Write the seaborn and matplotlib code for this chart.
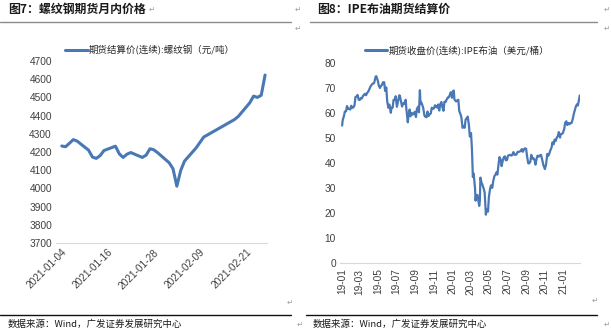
import matplotlib
matplotlib.use("Agg")
import matplotlib.pyplot as plt
import matplotlib.dates as mdates
from matplotlib.lines import Line2D
import seaborn as sns
import pandas as pd

# ---------------- data ----------------
rebar_dates = ["2021-01-04", "2021-01-05", "2021-01-06", "2021-01-07", "2021-01-08",
               "2021-01-11", "2021-01-12", "2021-01-13", "2021-01-14", "2021-01-15",
               "2021-01-18", "2021-01-19", "2021-01-20", "2021-01-21", "2021-01-22",
               "2021-01-25", "2021-01-26", "2021-01-27", "2021-01-28", "2021-01-29",
               "2021-02-01", "2021-02-02", "2021-02-03", "2021-02-04", "2021-02-05",
               "2021-02-08", "2021-02-09", "2021-02-10", "2021-02-18", "2021-02-19",
               "2021-02-22", "2021-02-23", "2021-02-24", "2021-02-25", "2021-02-26"]
rebar_values = [4233, 4229, 4248, 4268, 4260,
                4210, 4172, 4165, 4180, 4208,
                4232, 4190, 4170, 4188, 4197,
                4170, 4183, 4218, 4212, 4196,
                4141, 4108, 4012, 4098, 4150,
                4222, 4252, 4282, 4378, 4395,
                4470, 4507, 4500, 4512, 4623]

brent_dates = [
    "2019-01-02", "2019-01-04", "2019-01-08", "2019-01-11", "2019-01-15", "2019-01-18",
    "2019-01-22", "2019-01-25", "2019-01-29", "2019-02-01", "2019-02-05", "2019-02-08",
    "2019-02-12", "2019-02-15", "2019-02-19", "2019-02-22", "2019-02-26", "2019-03-01",
    "2019-03-05", "2019-03-08", "2019-03-12", "2019-03-15", "2019-03-19", "2019-03-22",
    "2019-03-26", "2019-03-29", "2019-04-02", "2019-04-05", "2019-04-09", "2019-04-12",
    "2019-04-16", "2019-04-18", "2019-04-23", "2019-04-25", "2019-04-30", "2019-05-03",
    "2019-05-07", "2019-05-10", "2019-05-14", "2019-05-17", "2019-05-21", "2019-05-24",
    "2019-05-28", "2019-05-31", "2019-06-04", "2019-06-07", "2019-06-12", "2019-06-14",
    "2019-06-18", "2019-06-21", "2019-06-25", "2019-06-28", "2019-07-02", "2019-07-05",
    "2019-07-10", "2019-07-12", "2019-07-16", "2019-07-19", "2019-07-23", "2019-07-26",
    "2019-07-31", "2019-08-02", "2019-08-07", "2019-08-09", "2019-08-13", "2019-08-16",
    "2019-08-20", "2019-08-23", "2019-08-27", "2019-08-30", "2019-09-03", "2019-09-06",
    "2019-09-10", "2019-09-13", "2019-09-16", "2019-09-18", "2019-09-20", "2019-09-24",
    "2019-09-27", "2019-10-01", "2019-10-04", "2019-10-08", "2019-10-11", "2019-10-15",
    "2019-10-18", "2019-10-22", "2019-10-25", "2019-10-29", "2019-11-01", "2019-11-05",
    "2019-11-08", "2019-11-12", "2019-11-15", "2019-11-19", "2019-11-22", "2019-11-26",
    "2019-11-29", "2019-12-03", "2019-12-06", "2019-12-10", "2019-12-13", "2019-12-17",
    "2019-12-20", "2019-12-24", "2019-12-27", "2019-12-31", "2020-01-03", "2020-01-06",
    "2020-01-08", "2020-01-10", "2020-01-14", "2020-01-17", "2020-01-21", "2020-01-24",
    "2020-01-28", "2020-01-31", "2020-02-04", "2020-02-07", "2020-02-11", "2020-02-14",
    "2020-02-18", "2020-02-21", "2020-02-25", "2020-02-28", "2020-03-03", "2020-03-06",
    "2020-03-09", "2020-03-11", "2020-03-13", "2020-03-16", "2020-03-18", "2020-03-20",
    "2020-03-24", "2020-03-27", "2020-03-30", "2020-04-01", "2020-04-03", "2020-04-07",
    "2020-04-09", "2020-04-14", "2020-04-17", "2020-04-21", "2020-04-23", "2020-04-28",
    "2020-05-01", "2020-05-05", "2020-05-08", "2020-05-12", "2020-05-15", "2020-05-19",
    "2020-05-22", "2020-05-26", "2020-05-29", "2020-06-02", "2020-06-05", "2020-06-09",
    "2020-06-12", "2020-06-16", "2020-06-19", "2020-06-23", "2020-06-26", "2020-06-30",
    "2020-07-03", "2020-07-07", "2020-07-10", "2020-07-14", "2020-07-17", "2020-07-21",
    "2020-07-24", "2020-07-28", "2020-07-31", "2020-08-04", "2020-08-07", "2020-08-11",
    "2020-08-14", "2020-08-18", "2020-08-21", "2020-08-26", "2020-08-28", "2020-09-01",
    "2020-09-04", "2020-09-08", "2020-09-11", "2020-09-15", "2020-09-18", "2020-09-22",
    "2020-09-25", "2020-09-29", "2020-10-02", "2020-10-06", "2020-10-09", "2020-10-13",
    "2020-10-16", "2020-10-20", "2020-10-23", "2020-10-28", "2020-11-02", "2020-11-06",
    "2020-11-10", "2020-11-13", "2020-11-17", "2020-11-20", "2020-11-24", "2020-11-27",
    "2020-12-01", "2020-12-04", "2020-12-08", "2020-12-11", "2020-12-15", "2020-12-18",
    "2020-12-22", "2020-12-24", "2020-12-31", "2021-01-05", "2021-01-08", "2021-01-12",
    "2021-01-15", "2021-01-19", "2021-01-22", "2021-01-26", "2021-01-29", "2021-02-02",
    "2021-02-05", "2021-02-09", "2021-02-12", "2021-02-16", "2021-02-19", "2021-02-23",
    "2021-02-25"]
brent_values = [
    54.9, 57.1, 58.7, 60.5, 60.6, 62.7,
    61.5, 61.6, 61.3, 62.8, 62.0, 62.1,
    63.0, 66.3, 66.5, 67.1, 65.2, 65.1,
    65.9, 65.7, 66.7, 67.2, 67.6, 67.0,
    68.0, 68.4, 69.4, 70.3, 71.0, 71.6,
    71.7, 72.0, 74.5, 74.6, 72.8, 70.9,
    69.9, 70.6, 71.2, 72.2, 72.2, 68.7,
    70.1, 64.5, 62.0, 63.3, 60.0, 62.0,
    62.1, 65.2, 65.1, 66.6, 62.4, 64.2,
    67.0, 66.7, 64.4, 62.5, 63.8, 63.5,
    65.2, 61.9, 56.2, 58.5, 61.3, 58.6,
    60.0, 59.3, 59.5, 60.4, 58.3, 61.5,
    62.4, 60.2, 69.0, 63.6, 64.3, 63.1,
    61.9, 58.9, 58.4, 58.2, 60.5, 58.7,
    59.4, 59.7, 62.0, 61.6, 61.7, 63.0,
    62.5, 62.1, 63.3, 60.9, 63.4, 64.3,
    62.4, 60.8, 64.4, 64.3, 65.2, 66.1,
    66.1, 67.2, 68.2, 66.0, 68.6, 68.9,
    65.4, 65.0, 64.5, 64.9, 65.2, 60.7,
    59.5, 58.2, 54.0, 54.5, 54.0, 57.3,
    57.8, 58.5, 55.0, 50.5, 51.9, 45.3,
    34.4, 35.8, 33.9, 30.1, 24.9, 27.0,
    27.2, 24.9, 22.8, 24.7, 34.1, 31.9,
    31.5, 29.6, 28.1, 19.3, 21.3, 20.5,
    26.4, 29.7, 31.0, 30.0, 32.5, 34.7,
    35.1, 36.2, 35.3, 39.6, 42.3, 41.2,
    38.7, 41.0, 42.2, 42.6, 41.0, 41.2,
    42.8, 43.1, 43.2, 42.9, 43.1, 44.3,
    43.3, 43.2, 43.3, 44.4, 44.4, 44.5,
    44.8, 45.5, 44.4, 45.6, 45.8, 45.6,
    42.7, 39.8, 39.8, 40.5, 43.2, 41.7,
    41.9, 41.0, 39.3, 41.9, 42.9, 42.5,
    42.9, 43.2, 41.8, 39.1, 37.5, 39.5,
    43.6, 42.8, 43.8, 45.0, 46.1, 48.2,
    47.4, 49.3, 48.8, 50.0, 50.8, 52.3,
    50.1, 51.3, 51.8, 53.6, 56.0, 56.6,
    55.1, 55.9, 55.4, 55.9, 55.9, 57.5,
    59.3, 61.1, 62.4, 63.4, 62.9, 65.4,
    66.9]

rebar_ticks = ["2021-01-04", "2021-01-16", "2021-01-28", "2021-02-09", "2021-02-21"]
brent_ticks = ["2019-01-01", "2019-03-01", "2019-05-01", "2019-07-01", "2019-09-01",
               "2019-11-01", "2020-01-01", "2020-03-01", "2020-05-01", "2020-07-01",
               "2020-09-01", "2020-11-01", "2021-01-01"]

title_left = "图7：螺纹钢期货月内价格"
title_right = "图8：IPE布油期货结算价"
legend_left = "期货结算价(连续):螺纹钢（元/吨）"
legend_right = "期货收盘价(连续):IPE布油（美元/桶）"
source_text = "数据来源：Wind，广发证券发展研究中心"

# ---------------- style ----------------
sns.set_theme(style="white")
plt.rcParams['font.family'] = ['Liberation Sans', 'Noto Sans CJK SC', 'DejaVu Sans']
LINE_COLOR = "#4A78B4"
GRID_COLOR = "#D9D9D9"

df_left = pd.DataFrame({"date": pd.to_datetime(rebar_dates), "value": rebar_values})
df_right = pd.DataFrame({"date": pd.to_datetime(brent_dates), "value": brent_values})

W, H = 611, 336
fig = plt.figure(figsize=(W / 100, H / 100), dpi=100)
fig.patch.set_facecolor("white")

def fx(px):
    return px / W

def fy(py):
    return 1 - py / H

ax1 = fig.add_axes([fx(56), fy(243), fx(267 - 56), (243 - 61) / H])
ax2 = fig.add_axes([fx(340), fy(263), fx(580 - 340), (263 - 62.7) / H])

sns.lineplot(data=df_left, x="date", y="value", ax=ax1, color=LINE_COLOR,
             linewidth=2.2, label=legend_left)
sns.lineplot(data=df_right, x="date", y="value", ax=ax2, color=LINE_COLOR,
             linewidth=1.6, label=legend_right)

for ax in (ax1, ax2):
    for s in ("top", "right", "left"):
        ax.spines[s].set_visible(False)
    ax.spines["bottom"].set_color(GRID_COLOR)
    ax.spines["bottom"].set_linewidth(0.8)
    ax.set_xlabel("")
    ax.set_ylabel("")
    ax.tick_params(axis="both", length=0, labelsize=7.3, colors="#404040", pad=3)
    ax.get_legend().remove()
    ax.set_facecolor("white")

# left axes
ax1.set_ylim(3700, 4700)
ax1.set_yticks(range(3700, 4701, 100))
ax1.set_xlim(pd.Timestamp("2021-01-02 12:00"), pd.Timestamp("2021-02-26 12:00"))
ax1.set_xticks(pd.to_datetime(rebar_ticks))
ax1.xaxis.set_major_formatter(mdates.DateFormatter("%Y-%m-%d"))
for lab in ax1.get_xticklabels():
    lab.set_rotation(45)
    lab.set_ha("right")
    lab.set_va("top")
    lab.set_rotation_mode("anchor")

# right axes
ax2.set_ylim(0, 80)
ax2.set_yticks(range(0, 81, 10))
ax2.set_xlim(pd.Timestamp("2018-12-26"), pd.Timestamp("2021-02-26"))
ax2.set_xticks(pd.to_datetime(brent_ticks))
ax2.xaxis.set_major_formatter(mdates.DateFormatter("%y-%m"))
for lab in ax2.get_xticklabels():
    lab.set_rotation(90)
ax2.tick_params(axis="x", pad=4)

# legends
h1 = [Line2D([], [], color=LINE_COLOR, linewidth=2.2)]
fig.legend(h1, [legend_left], loc="center", bbox_to_anchor=(fx(150), fy(50)),
           frameon=False, fontsize=6.8, handlelength=2.4, handletextpad=0.15,
           prop={"family": ['Noto Sans CJK SC', 'DejaVu Sans'], "size": 6.8})
h2 = [Line2D([], [], color=LINE_COLOR, linewidth=2.2)]
fig.legend(h2, [legend_right], loc="center", bbox_to_anchor=(fx(457), fy(50)),
           frameon=False, fontsize=6.8, handlelength=2.4, handletextpad=0.15,
           prop={"family": ['Noto Sans CJK SC', 'DejaVu Sans'], "size": 6.8})

# titles
fig.text(fx(8), fy(9), title_left, fontsize=8.6, fontweight="bold", va="center",
         ha="left", color="#1a1a1a", family=['Noto Sans CJK SC', 'DejaVu Sans'])
fig.text(fx(317), fy(9), title_right, fontsize=8.6, fontweight="bold", va="center",
         ha="left", color="#1a1a1a", family=['Noto Sans CJK SC', 'DejaVu Sans'])

# separator rules
fig.add_artist(Line2D([fx(0), fx(291)], [fy(22), fy(22)], color="#8C8C8C", linewidth=1.0))
fig.add_artist(Line2D([fx(310), fx(597)], [fy(22), fy(22)], color="#8C8C8C", linewidth=1.0))
fig.add_artist(Line2D([fx(0), fx(291)], [fy(315), fy(315)], color="#111111", linewidth=1.0))
fig.add_artist(Line2D([fx(306), fx(597)], [fy(315), fy(315)], color="#111111", linewidth=1.0))

# source lines
fig.text(fx(8), fy(324), source_text, fontsize=6.8, va="center", ha="left",
         color="#1a1a1a", family=['Noto Sans CJK SC', 'DejaVu Sans'])
fig.text(fx(313), fy(324), source_text, fontsize=6.8, va="center", ha="left",
         color="#1a1a1a", family=['Noto Sans CJK SC', 'DejaVu Sans'])

# paragraph marks
for (px, py) in [(152, 9), (298, 9), (298, 28), (290, 302), (300, 324),
                 (607, 9), (607, 28), (595, 300), (607, 324)]:
    fig.text(fx(px), fy(py), "\u21b5", fontsize=5.5, color="#A0A0A0", va="center",
             ha="center", family=['DejaVu Sans'])

fig.savefig("out.png", dpi=100, facecolor="white")
